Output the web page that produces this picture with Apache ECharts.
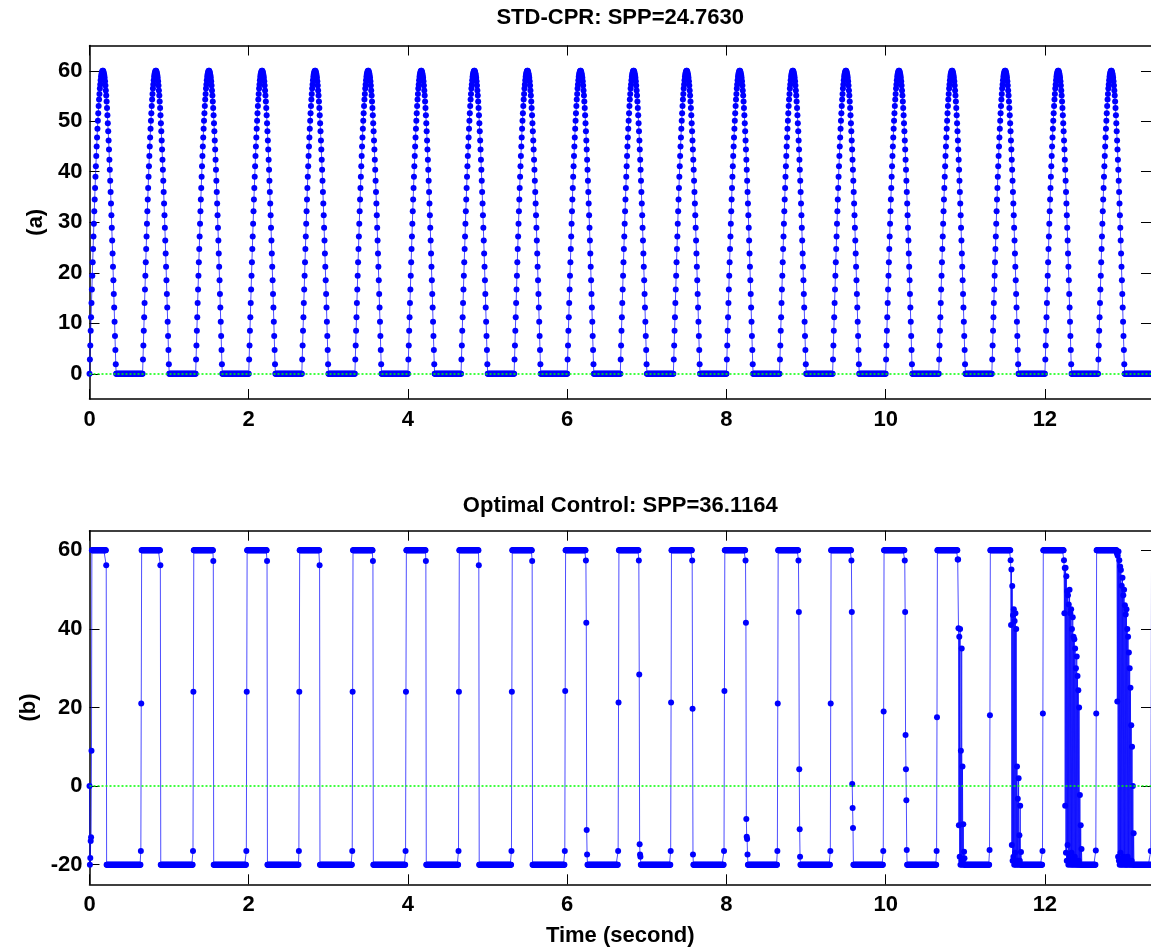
<!DOCTYPE html>
<html>
<head>
<meta charset="utf-8">
<script src="https://cdn.jsdelivr.net/npm/echarts@6/dist/echarts.min.js"></script>
<style>
html,body{margin:0;padding:0;background:#fff;}
#chart{width:1151px;height:950px;}
</style>
</head>
<body>
<div id="chart"></div>
<script>
// ---------- texts ----------
const topTitle = 'STD-CPR: SPP=24.7630';
const bottomTitle = 'Optimal Control: SPP=36.1164';
const xName = 'Time (second)';
const topYName = '(a)';
const bottomYName = '(b)';

// ---------- axes ----------
const xRange = [0, 13.333];
const xTicks = [0, 2, 4, 6, 8, 10, 12];
const topYRange = [-5, 65];
const topYTicks = [0, 10, 20, 30, 40, 50, 60];
const bottomYRange = [-25, 65];
const bottomYTicks = [-20, 0, 20, 40, 60];

// ---------- sampling ----------
const sampleStep = 0.005;   // s between samples

// ---------- (a) STD-CPR ----------
const cycleCount = 20;
const cyclePeriod = 0.6667;
// one compression pulse (one value per sample)
const compressionPulse = [
  0, 2.8, 5.6, 8.5, 11.2, 14.0, 16.7, 19.4, 22.1, 24.7,
  27.2, 29.7, 32.2, 34.5, 36.8, 39.0, 41.1, 43.1, 45.0, 46.8,
  48.5, 50.1, 51.6, 53.0, 54.3, 55.4, 56.5, 57.3, 58.1, 58.8,
  59.3, 59.6, 59.9, 60.0, 60.0, 59.8, 59.5, 59.1, 58.6, 57.9,
  57.1, 56.1, 55.1, 53.9, 52.6, 51.2, 49.6, 48.0, 46.2, 44.4,
  42.4, 40.4, 38.2, 36.0, 33.7, 31.4, 28.9, 26.4, 23.8, 21.2,
  18.5, 15.8, 13.1, 10.3, 7.5, 4.7, 1.9
];
const restLevel = 0;
const restSamples = 66;

// ---------- (b) Optimal control ----------
const highLevel = 60;
const lowLevel = -20;
const startValues = [0, -20, -18.3, -14, -13, 9];
const riseTimes = [0.643, 1.30, 1.967, 2.627, 3.30, 3.967, 4.633, 5.30, 5.97, 6.64,
                   7.30, 7.97, 8.637, 9.303, 9.97, 10.637, 11.303, 11.97, 12.64, 13.328];
const riseValues = [[-16.5, 21], [-16.5, 24], [-16.5, 24], [-16.5, 24], [-16.5, 24],
                    [-16.5, 24], [-16.5, 24], [-16.5, 24], [-16.5, 24.2], [-16.5, 21.3],
                    [-16.5, 21.3], [-16.5, 24.2], [-16.5, 21], [-16.5, 21], [-16.5, 19],
                    [-16.5, 17.5], [-16.3, 18], [-16.5, 18.5], [-16.4, 18.5], [-16.5, 18.5]];
const fallTimes = [0.207, 0.886, 1.555, 2.226, 2.89, 3.557, 4.223, 4.89, 5.557, 6.235,
                   6.90, 7.57, 8.24, 8.903, 9.57, 10.237, 10.903, 11.57, 12.237, 12.905];
const fallValues = [
  [56.2],
  [56.2],
  [57.3],
  [57.3],
  [56.2],
  [57.3],
  [57.3],
  [56.2],
  [57.3],
  [57.4, 41.6, -11.2, -17.4],
  [57.4, 28.4, -14.8, -17.4, -18],
  [57.4, 19.7, -17.4],
  [57.4, 41.6, -8.4, -12.9, -13.5, -17.4],
  [57.4, 44.3, 4.3, -11, -18],
  [57.4, 44.3, 0.5, -5.6, -10.7],
  [57.4, 44.3, 13, 4.3, -3.6, -16.3],
  [57.7, 57.7, 40.2, -10, 38, -18, 40, -20, 9, -19, 35, -20, 5, -19, -9.7, -20, -16.7, -18.4],
  [57.5, 41, 55.1, -15, 50.9, -19, 43.5, -18, 45, -20, 42, -17, 44, -20, 40, -19, 5, -20,
   -3.2, -19, 2, -20, -12.5, -19, -5, -20, -16.8],
  [57.5, 44, 55.5, -5, 55.6, -17, 53.4, -19, 49.6, -15, 48.6, -20, 46.2, -18, 50, -19,
   44, -20, 45, -17, 40, -20, 43, -19, 38, -20, 37.4, -18, 35, -20, 30, -19, 33, -20,
   28, -20, 24.4, -19, 20, -20, -2.3, -20, -10, -20, -16],
  [59.2, 21.5, 58.6, -18, 59.7, -19, 57.5, -20, 55.9, -17, 55, -20, 51, -19, 53, -20,
   48.6, -18, 50, -20, 46, -19, 43.7, -20, 45, -20, 40, -18, 38, -20, 34, -19, 30, -20,
   25, -20, 15.5, -19, 10, -20, 0, -20, -12]
];

// ---------- build series data ----------
const topData = [];
for (let c = 0; c < cycleCount; c++) {
  const t0 = c * cyclePeriod;
  compressionPulse.forEach((v, i) => topData.push([t0 + i * sampleStep, v]));
  for (let i = 0; i < restSamples; i++) {
    topData.push([t0 + (compressionPulse.length + i) * sampleStep, restLevel]);
  }
}

const bottomData = [];
let tCur = 0;
function pushSeq(vals) { vals.forEach(v => { bottomData.push([tCur, v]); tCur += sampleStep; }); }
function pushLevel(until, v) { while (tCur < until - 1e-9) { bottomData.push([tCur, v]); tCur += sampleStep; } }
pushSeq(startValues);
pushLevel(fallTimes[0], highLevel);
pushSeq(fallValues[0]);
for (let k = 0; k < riseTimes.length; k++) {
  pushLevel(riseTimes[k], lowLevel);
  pushSeq(riseValues[k]);
  if (k + 1 < fallTimes.length) {
    pushLevel(fallTimes[k + 1], highLevel);
    pushSeq(fallValues[k + 1]);
  } else {
    pushLevel(xRange[1] + 0.02, highLevel);
  }
}

// ---------- layout ----------
const FONT = 'Liberation Sans, Arial, Helvetica, sans-serif';
const plotLeft = 89.5, plotWidth = 1063;
const grids = [
  {left: plotLeft, top: 45.5, width: plotWidth, height: 353.5},
  {left: plotLeft, top: 530.7, width: plotWidth, height: 353.6}
];

function xAx(grid, pos, showLabels, name, nameGap, nameSize) {
  return {
    type: 'value', gridIndex: grid, position: pos,
    min: xRange[0], max: xRange[1],
    name: name, nameLocation: 'middle', nameGap: nameGap,
    nameTextStyle: {fontFamily: FONT, fontWeight: 'bold', fontSize: nameSize, color: '#000'},
    axisLine: {show: true, onZero: false, lineStyle: {color: '#000', width: 1.5}},
    axisTick: {show: true, inside: true, length: 10, customValues: xTicks, lineStyle: {color: '#000', width: 1}},
    axisLabel: {show: showLabels, customValues: xTicks, margin: 10, fontFamily: FONT, fontWeight: 'bold', fontSize: 22, color: '#000'},
    splitLine: {show: false}
  };
}
function yAx(grid, pos, range, ticks, showLabels, name) {
  return {
    type: 'value', gridIndex: grid, position: pos,
    min: range[0], max: range[1],
    name: name, nameLocation: 'middle', nameGap: 43,
    nameTextStyle: {fontFamily: FONT, fontWeight: 'bold', fontSize: 22, color: '#000'},
    axisLine: {show: pos === 'left', onZero: false, lineStyle: {color: '#000', width: 1.5}},
    axisTick: {show: true, inside: true, length: 10, customValues: ticks, lineStyle: {color: '#000', width: 1}},
    axisLabel: {show: showLabels, customValues: ticks, margin: 7, fontFamily: FONT, fontWeight: 'bold', fontSize: 22, color: '#000'},
    splitLine: {show: false}
  };
}

const zeroLine = {
  silent: true, animation: false, symbol: ['none', 'none'],
  label: {show: false},
  lineStyle: {color: '#00ff00', type: [2, 2], width: 1.5},
  data: [{yAxis: 0}]
};

function dataSeries(xi, yi, data) {
  return {
    type: 'line', xAxisIndex: xi, yAxisIndex: yi, data: data,
    symbol: 'circle', symbolSize: 6, showSymbol: true, showAllSymbol: true,
    itemStyle: {color: '#0000ff'},
    lineStyle: {color: '#0000ff', width: 1, opacity: 0.7},
    silent: true, animation: false, clip: true,
    markLine: zeroLine
  };
}

const chart = echarts.init(document.getElementById('chart'), null, {renderer: 'canvas'});
chart.setOption({
  backgroundColor: '#ffffff',
  animation: false,
  grid: grids,
  xAxis: [
    xAx(0, 'bottom', true, '', 0, 22),
    xAx(0, 'top', false, topTitle, 16.5, 22),
    xAx(1, 'bottom', true, xName, 41, 22),
    xAx(1, 'top', false, bottomTitle, 14, 22)
  ],
  yAxis: [
    yAx(0, 'left', topYRange, topYTicks, true, topYName),
    yAx(0, 'right', topYRange, topYTicks, false, ''),
    yAx(1, 'left', bottomYRange, bottomYTicks, true, bottomYName),
    yAx(1, 'right', bottomYRange, bottomYTicks, false, '')
  ],
  series: [
    dataSeries(0, 0, topData),
    dataSeries(2, 2, bottomData)
  ]
});
</script>
</body>
</html>
